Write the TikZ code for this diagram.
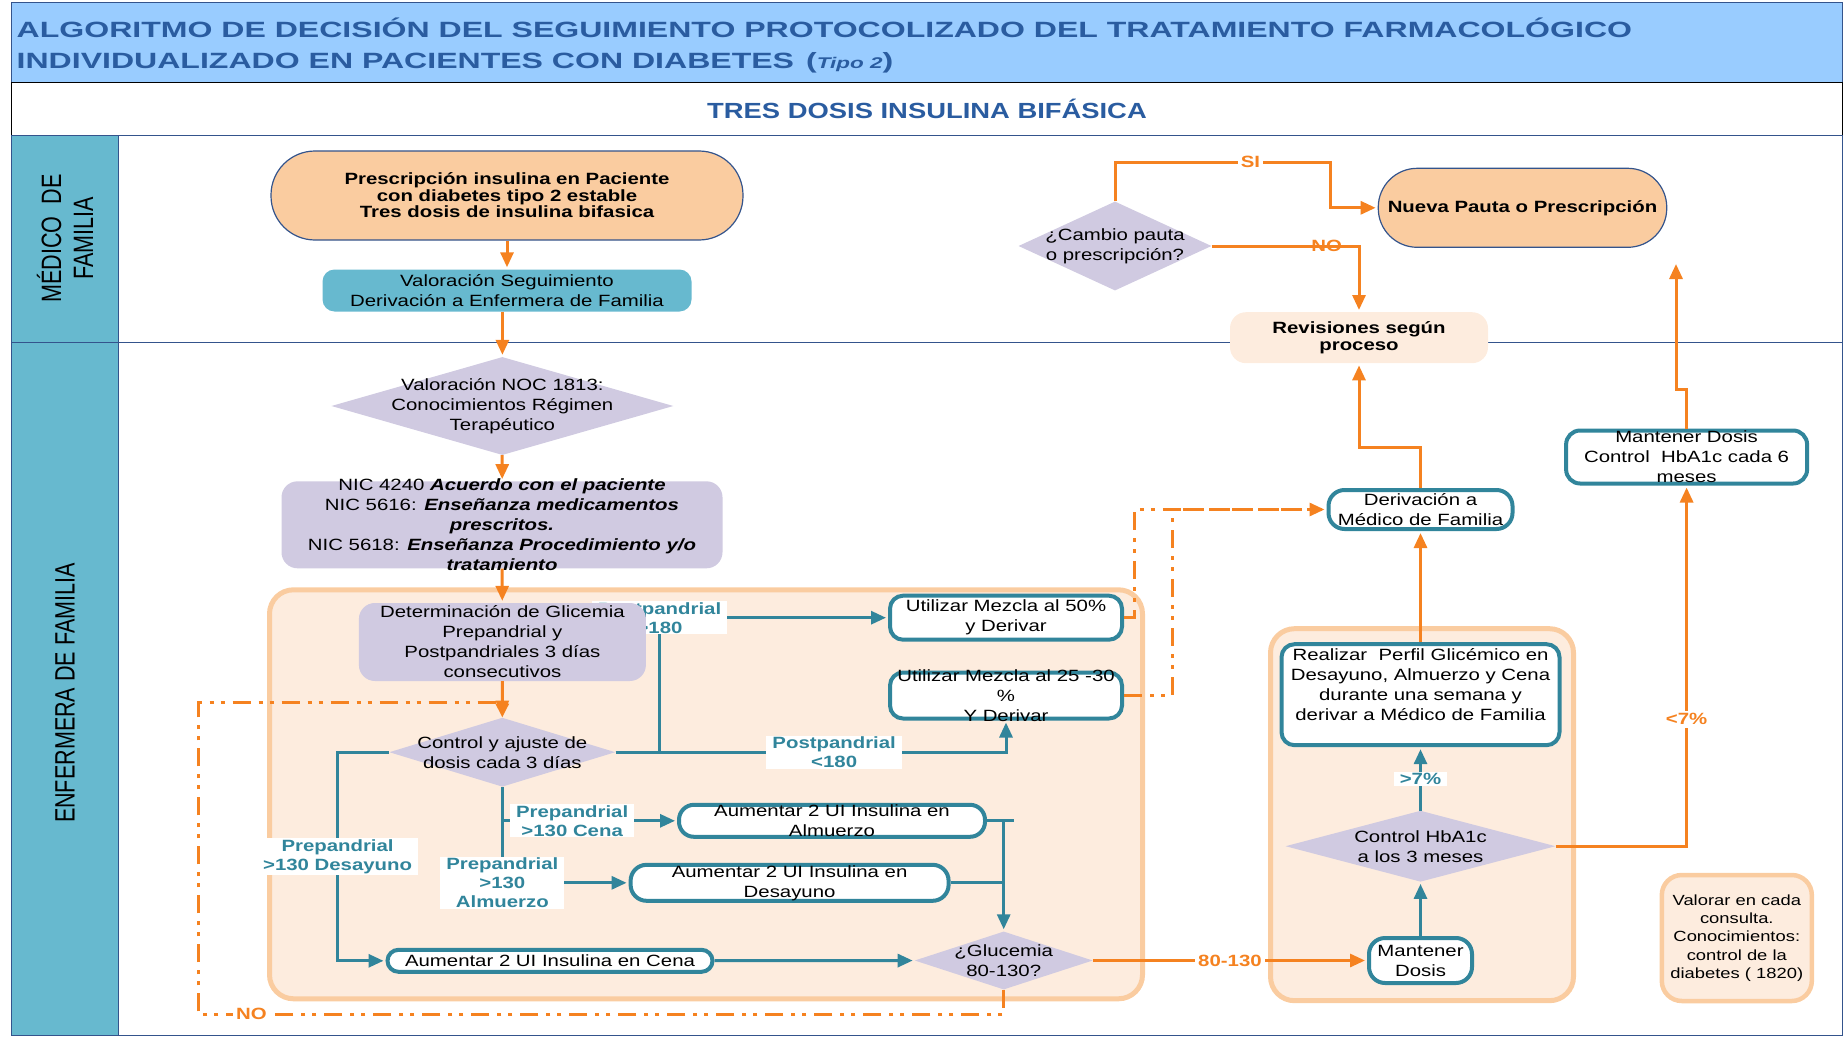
\documentclass[tikz,border=0pt]{standalone}
\usepackage{fontspec}
\setmainfont{Liberation Sans}[FakeStretch=1.25]
\newfontfamily\titlefont{Liberation Sans}[FakeStretch=1.45]
\newfontfamily\lanefont{Liberation Sans}[FakeStretch=0.77]
\usetikzlibrary{shapes.geometric,arrows.meta}

\definecolor{bandaazul}{RGB}{153,204,255}
\definecolor{tituloazul}{RGB}{42,92,160}
\definecolor{carril}{RGB}{103,185,207}
\definecolor{marino}{RGB}{52,84,140}
\definecolor{naranja}{RGB}{245,130,32}
\definecolor{salmon}{RGB}{250,204,160}
\definecolor{crema}{RGB}{253,236,222}
\definecolor{lila}{RGB}{208,202,225}
\definecolor{verdeazul}{RGB}{49,133,155}

\newcommand{\txt}{\fontsize{16.3}{20}\selectfont}

\tikzset{
  pildora/.style={rectangle, fill=salmon, draw=marino, line width=1.2pt, inner sep=-10pt, align=center, font=\fontsize{16.3}{16.5}\selectfont\bfseries},
  lilacaja/.style={rectangle, fill=lila, rounded corners=16pt, inner sep=-12pt, align=center},
  rombo/.style={diamond, fill=lila, inner sep=-60pt, align=center},
  tealcaja/.style={rectangle, draw=verdeazul, line width=4pt, fill=white, rounded corners=13pt, inner sep=-12pt, align=center},
  zona/.style={rectangle, fill=crema, draw=salmon, line width=5pt, rounded corners=24pt, inner sep=0pt},
  linea/.style={draw=naranja, line width=3pt},
  flecha/.style={linea, -{Triangle[length=15pt,width=13pt]}, shorten >=2pt},
  tlinea/.style={draw=verdeazul, line width=3pt},
  tflecha/.style={tlinea, -{Triangle[length=15pt,width=13pt]}, shorten >=2pt},
  puntos/.style={linea, dash pattern=on 18pt off 8pt on 4pt off 7pt on 4pt off 8pt},
  tetiq/.style={fill=white, text=verdeazul, font=\fontsize{16.3}{19}\selectfont\bfseries, align=center, inner xsep=6pt, inner ysep=1pt},
  netiq/.style={fill=white, text=naranja, font=\txt\bfseries, inner sep=3pt},
}

\begin{document}
\begin{tikzpicture}[x=1pt, y=-1pt, font=\txt]
    \useasboundingbox (0,0) rectangle (1845,1038);

    % Header:
    \draw [marino, line width=1.2pt, fill=bandaazul] (11.8,2.4) rectangle (1842.7,82.4);
    \draw [black, line width=1.2pt, fill=white] (11.8,82.4) rectangle (1842.7,135.3);
    \node [anchor=base west, inner sep=0pt, text=tituloazul, font=\titlefont\fontsize{22.1}{32}\selectfont\bfseries] (tit1) at (16.5,37.5)
        {ALGORITMO DE DECISIÓN DEL SEGUIMIENTO PROTOCOLIZADO DEL TRATAMIENTO FARMACOLÓGICO};
    \node [anchor=base west, inner sep=0pt, text=tituloazul, font=\titlefont\fontsize{22.1}{32}\selectfont\bfseries] (tit2) at (16.5,68.5)
        {INDIVIDUALIZADO EN PACIENTES CON DIABETES\hspace{12pt}({\itshape\fontsize{15.5}{15.5}\selectfont Tipo 2})};
    \node [text=tituloazul, font=\fontsize{21.9}{24}\selectfont\bfseries] (subtit) at (927,108.5) {TRES DOSIS INSULINA BIFÁSICA};

    % Lanes:
    \draw [marino, line width=1.2pt] (11.8,135.3) rectangle (1842.7,1035.5);
    \draw [marino, line width=1.2pt, fill=carril] (11.8,135.3) rectangle (118.8,1035.5);
    \draw [marino, line width=1.2pt] (11.8,342.4) -- (1842.7,342.4);
    \node [rotate=90, align=center, font=\lanefont\fontsize{28}{32}\selectfont] (mf) at (65,238.5) {MÉDICO\ \ DE\\FAMILIA};
    \node [rotate=90, font=\lanefont\fontsize{28}{32}\selectfont] (ef) at (65,693) {ENFERMERA DE FAMILIA};

    % Background zones
    \node [zona, minimum width=873pt, minimum height=409pt] (zonaA) at (706,794.3) {};
    \node [zona, minimum width=303pt, minimum height=372pt] (zonaB) at (1422,814.7) {};
    \node [zona, minimum width=150pt, minimum height=126pt, rounded corners=20pt, line width=4.5pt, align=center,
           font=\fontsize{14.7}{18.3}\selectfont] (valorar) at (1736.8,938)
        {Valorar en cada\\consulta.\\Conocimientos:\\control de la\\diabetes ( 1820)};

    % Medico de familia
    \node [pildora, rounded corners=44pt, minimum width=472pt, minimum height=89pt] (presc) at (507,195.5)
        {Prescripción insulina en Paciente\\con diabetes tipo 2 estable\\Tres dosis de insulina bifasica};
    \node [rectangle, fill=carril, rounded corners=12pt, inner sep=-10pt, align=center, minimum width=369pt, minimum height=42pt] (valseg) at (507,290.5)
        {Valoración Seguimiento\\Derivación a Enfermera de Familia};
    \node [rombo, minimum width=193pt, minimum height=89pt] (cambio) at (1115,246) {¿Cambio pauta\\o prescripción?};
    \node [pildora, rounded corners=39pt, minimum width=288.5pt, minimum height=79pt] (nueva) at (1522.5,207.8) {Nueva Pauta o Prescripción};
    \node [rectangle, fill=crema, rounded corners=16pt, inner sep=-10pt, align=center, font=\fontsize{16.3}{17}\selectfont\bfseries,
           minimum width=258pt, minimum height=51pt] (revis) at (1359,337.7) {Revisiones según\\proceso};

    % Enfermera de familia
    \node [rombo, minimum width=342pt, minimum height=98pt] (noc) at (502.4,406) {Valoración NOC 1813:\\Conocimientos Régimen\\Terapéutico};
    \node [lilacaja, minimum width=441pt, minimum height=87pt] (nic) at (502,524.8)
        {NIC 4240 \textbf{\textit{Acuerdo con el paciente}}\\NIC 5616: \textbf{\textit{Enseñanza medicamentos}}\\\textbf{\textit{prescritos.}}\\NIC 5618: \textbf{\textit{Enseñanza Procedimiento y/o}}\\\textbf{\textit{tratamiento}}};
    \node [rombo, minimum width=226pt, minimum height=69pt] (control) at (502.3,752.2) {Control y ajuste de\\dosis cada 3 días};
    \node [tealcaja, minimum width=232pt, minimum height=44pt] (mez50) at (1006,617.7) {Utilizar Mezcla al 50\%\\y Derivar};
    \node [tealcaja, minimum width=232pt, minimum height=46pt] (mez25) at (1006,695.5) {Utilizar Mezcla al 25 -30\\\%\\Y Derivar};
    \node [tealcaja, rounded corners=15pt, minimum width=306pt, minimum height=32pt] (almuerzo) at (832,820.8) {Aumentar 2 UI Insulina en\\Almuerzo};
    \node [tealcaja, rounded corners=16pt, minimum width=318pt, minimum height=36pt] (desayuno) at (789.6,882.8) {Aumentar 2 UI Insulina en\\Desayuno};
    \node [tealcaja, rounded corners=11pt, minimum width=325pt, minimum height=22pt] (cena) at (550,960.8) {Aumentar 2 UI Insulina en Cena};
    \node [rombo, minimum width=178pt, minimum height=58pt] (glucemia) at (1003.7,960.5) {¿Glucemia\\80-130?};
    \node [tealcaja, minimum width=278pt, minimum height=101pt] (perfil) at (1420.5,694.7)
        {Realizar\ \ Perfil Glicémico en\\Desayuno, Almuerzo y Cena\\durante una semana y\\derivar a Médico de Familia\\\mbox{}};
    \node [rombo, minimum width=270pt, minimum height=71pt] (hba1c) at (1420.5,846.2) {Control HbA1c\\a los 3 meses};
    \node [tealcaja, rounded corners=16pt, minimum width=103pt, minimum height=45pt] (mantener) at (1420.5,960.5) {Mantener\\Dosis};
    \node [tealcaja, rounded corners=16pt, minimum width=184pt, minimum height=39pt] (deriv) at (1420.5,509.5) {Derivación a\\Médico de Familia};
    \node [tealcaja, rounded corners=14pt, minimum width=241pt, minimum height=53pt] (mantctrl) at (1686.6,457) {Mantener Dosis\\Control\ \ HbA1c cada 6\\meses};

    % this label sits behind the glycemia box
    \draw [tflecha] (control.east) -- ++(44,0) |- (mez50.west) node [tetiq, pos=0.5] {Postpandrial\\>180};
    \node [lilacaja, minimum width=287pt, minimum height=78pt] (det) at (502.4,642)
        {Determinación de Glicemia\\Prepandrial y\\Postpandriales 3 días\\consecutivos};

    % Connectors:
    \draw [flecha] (presc) -- (valseg);
    \draw [flecha] (valseg.south -| noc.north) -- (noc.north);
    \draw [flecha] (noc) -- (nic);
    \draw [flecha] (nic) -- (det);
    \draw [flecha] (det) -- (control);

    \draw [tflecha] (control.east) -| (mez25.south) node [tetiq, pos=0.28] {Postpandrial\\<180};
    \draw [tflecha] (control.south) |- (desayuno.west) node [tetiq, pos=0.5] {Prepandrial\\>130\\Almuerzo};
    \draw [tflecha] (control.south |- almuerzo.west) -- (almuerzo.west) node [tetiq, pos=0.4] {Prepandrial\\>130 Cena};
    \draw [tflecha] (control.west) -- ++(-51.5,0) |- (cena.west) node [tetiq, pos=0.25] {Prepandrial\\>130 Desayuno};
    \draw [tlinea] (almuerzo.east) -- ++(27,0);
    \draw [tflecha] (almuerzo.east -| glucemia.north) -- (glucemia.north);
    \draw [tlinea] (desayuno.east) -- (desayuno.east -| glucemia.north);
    \draw [tflecha] (cena) -- (glucemia);

    \draw [flecha] (glucemia) -- (mantener) node [netiq, pos=0.5] {80-130};
    \coordinate (noabajo) at (198.3,1014.3);
    \coordinate (noarriba) at (198.3,702.7);
    \draw [puntos, -{Triangle[length=14pt,width=13pt]}] (glucemia.south) |- (noabajo) node [netiq, pos=0.967] {NO}
        -- (noarriba) -| (control.north);

    \draw [puntos, -{Triangle[length=15pt,width=13pt]}, shorten >=2pt] (mez50.east) -- ++(10,0) |- (deriv.west);
    \draw [puntos] (mez25.east) -- ++(48,0) |- (deriv.west);

    \draw [tflecha] (mantener) -- (hba1c);
    \draw [tflecha] (hba1c) -- (perfil) node [tetiq, pos=0.5] {>7\%};
    \draw [flecha] (hba1c.east) -| (mantctrl.south) node [netiq, pos=0.676] {<7\%};
    \draw [flecha] (perfil) -- (deriv);
    \draw [flecha] (deriv.north) -- ++(0,-41) -| (revis.south);

    \coordinate (haciaNueva) at (1676,262);
    \draw [flecha] (mantctrl.north) -- ++(0,-39) -| (haciaNueva);
    \draw [flecha] (cambio.north) |- (1330,162.3) node [netiq, pos=0.815] {SI} |- (nueva.west);
    \draw [flecha] (cambio.east) -| (revis.north) node [pos=0.39, text=naranja, font=\txt\bfseries] {NO};
\end{tikzpicture}
\end{document}
